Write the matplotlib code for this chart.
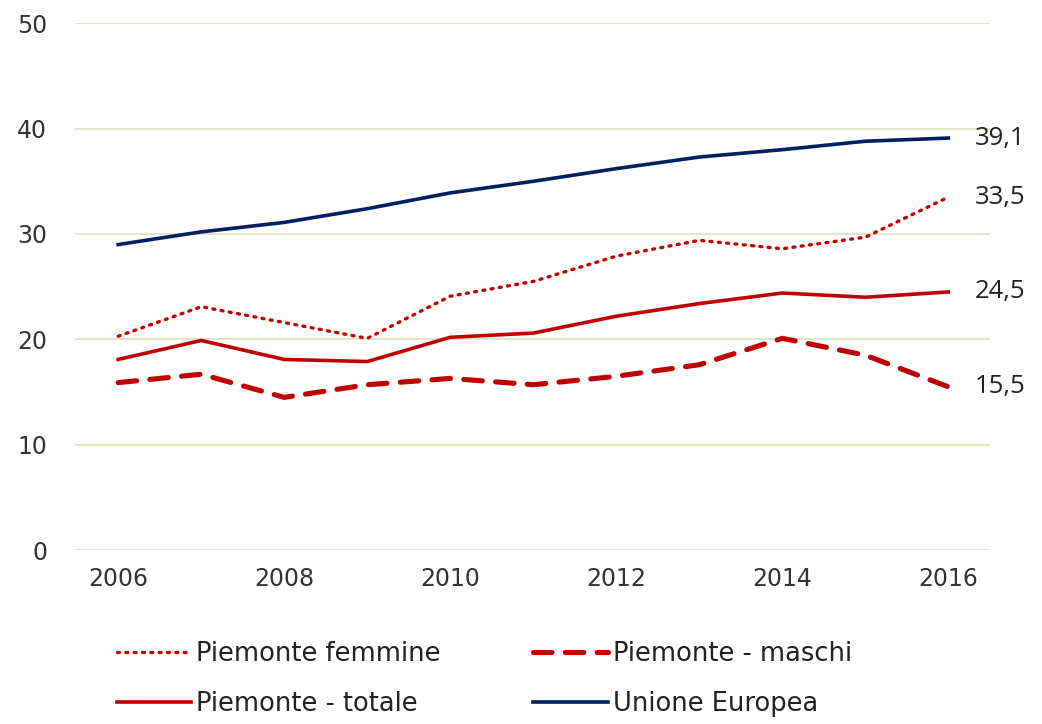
import numpy as np
import matplotlib.pyplot as plt

years = [2006, 2007, 2008, 2009, 2010, 2011, 2012, 2013, 2014, 2015, 2016]
femmine = [20.3, 23.1, 21.6, 20.1, 24.1, 25.5, 27.9, 29.4, 28.6, 29.7, 33.5]
maschi = [15.9, 16.7, 14.5, 15.7, 16.3, 15.7, 16.5, 17.6, 20.1, 18.5, 15.5]
totale = [18.1, 19.9, 18.1, 17.9, 20.2, 20.6, 22.2, 23.4, 24.4, 24.0, 24.5]
ue = [29.0, 30.2, 31.1, 32.4, 33.9, 35.0, 36.2, 37.3, 38.0, 38.8, 39.1]
end_labels = ["33,5", "15,5", "24,5", "39,1"]

RED = '#c00000'
NAVY = '#002060'

plt.rcParams['font.family'] = ['DejaVu Sans']

fig = plt.figure(figsize=(10.42, 7.24), dpi=100)
ax = fig.add_axes([0.072, 0.24, 0.878, 0.728])

l1, = ax.plot(years, femmine, color=RED, lw=2.4, linestyle=(0, (0.6, 1.9)),
              dash_capstyle='round', label='Piemonte femmine')
l2, = ax.plot(years, maschi, color=RED, lw=3.7, linestyle=(0, (3.6, 2.6)),
              dash_capstyle='round', label='Piemonte - maschi')
l3, = ax.plot(years, totale, color=RED, lw=2.6, label='Piemonte - totale')
l4, = ax.plot(years, ue, color=NAVY, lw=2.6, label='Unione Europea')

for series, txt in zip([femmine, maschi, totale, ue], end_labels):
    ax.annotate(txt, (years[-1], series[-1]), xytext=(19, 0), textcoords='offset points',
                va='center', ha='left', fontsize=18.5, color='#222222',
                family=['Open Sans', 'DejaVu Sans'])

ax.set_xlim(2005.48, 2016.5)
ax.set_ylim(0, 50)
ax.set_yticks([0, 10, 20, 30, 40, 50])
ax.set_xticks([2006, 2008, 2010, 2012, 2014, 2016])
ax.grid(axis='y', color='#e0e0c0', lw=1.2)
ax.set_axisbelow(True)
for s in ax.spines.values():
    s.set_visible(False)
ax.tick_params(length=0, labelsize=17, labelcolor='#333333', pad=12)
ax.tick_params(axis='y', pad=20)

# order so rows read: femmine, maschi / totale, UE
fig.legend(handles=[l1, l3, l2, l4], ncol=2, loc='upper left',
           bbox_to_anchor=(0.112, 0.115), frameon=False, fontsize=18.5,
           borderpad=0, borderaxespad=0,
           handlelength=2.9, handletextpad=0.2, columnspacing=3.6,
           labelspacing=0.95, labelcolor='#222222')

fig.savefig('out.png', dpi=100)
